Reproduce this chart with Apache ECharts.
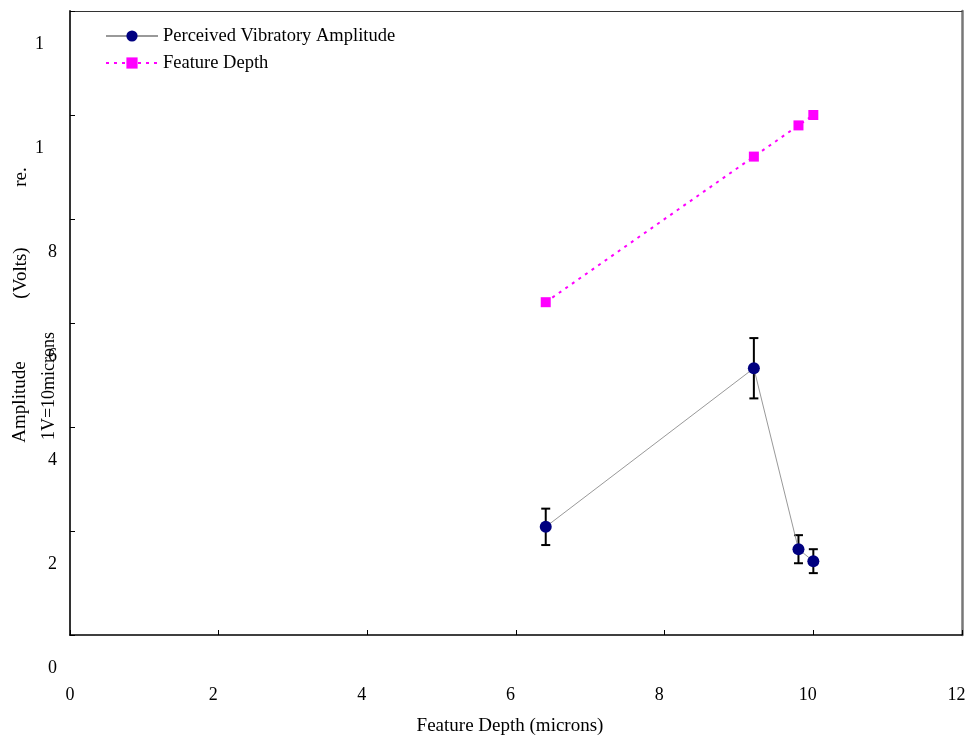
<!DOCTYPE html>
<html>
<head>
<meta charset="utf-8">
<script src="https://cdn.jsdelivr.net/npm/echarts@6/dist/echarts.min.js"></script>
<style>
  html, body { margin: 0; padding: 0; background: #fff; }
  #chart { width: 972px; height: 737px; }
</style>
</head>
<body>
<div id="chart"></div>
<script>
// Measured depths (microns) and the vibratory amplitude perceived at each
const depth = [6.4, 9.2, 9.8, 10.0];
const amplitude = [2.08, 5.13, 1.65, 1.42];
const amplitudeErr = [0.35, 0.58, 0.27, 0.23];
const featureDepth = [6.4, 9.2, 9.8, 10.0];

// Axis tick text
const xTickLabels = ['0', '2', '4', '6', '8', '10', '12'];
const yTickLabels = ['0', '2', '4', '6', '8', '1', '1'];

const seriesNames = ['Perceived Vibratory Amplitude', 'Feature Depth'];
const xAxisTitle = 'Feature Depth (microns)';
const yTitleParts = ['Amplitude', '(Volts)', 're.'];
const yTitleNote = '1V=10microns';

const FONT = 'Liberation Serif';
const chart = echarts.init(document.getElementById('chart'));

const ampPoints = depth.map((d, i) => [d, amplitude[i]]);
const errPoints = depth.map((d, i) => [d, amplitude[i] - amplitudeErr[i], amplitude[i] + amplitudeErr[i]]);
const depthPoints = depth.map((d, i) => [d, featureDepth[i]]);

function renderErrorBar(params, api) {
  const x = api.value(0);
  const lo = api.coord([x, api.value(1)]);
  const hi = api.coord([x, api.value(2)]);
  const cap = 4.5;
  const style = { stroke: '#000', lineWidth: 2 };
  return {
    type: 'group',
    children: [
      { type: 'line', shape: { x1: lo[0], y1: lo[1], x2: hi[0], y2: hi[1] }, style },
      { type: 'line', shape: { x1: lo[0] - cap, y1: lo[1], x2: lo[0] + cap, y2: lo[1] }, style },
      { type: 'line', shape: { x1: hi[0] - cap, y1: hi[1], x2: hi[0] + cap, y2: hi[1] }, style }
    ]
  };
}

function yTitle(text, cx, cy, size) {
  return {
    type: 'text',
    x: cx, y: cy,
    rotation: Math.PI / 2,
    style: {
      text: text,
      font: size + 'px "' + FONT + '"',
      fill: '#000',
      align: 'center',
      verticalAlign: 'middle'
    }
  };
}

function legendFor(name, left, top) {
  return {
    orient: 'vertical',
    left: left,
    top: top,
    padding: 0,
    itemWidth: 52,
    itemHeight: 14,
    itemGap: 0,
    textStyle: { fontFamily: FONT, fontSize: 18.5, color: '#000', lineHeight: 22 },
    data: [name]
  };
}

chart.setOption({
  animation: false,
  backgroundColor: '#fff',
  textStyle: { fontFamily: FONT },
  grid: { left: 70, right: 10, top: 11, bottom: 102, show: false, outerBoundsMode: 'none' },
  legend: [
    legendFor(seriesNames[0], 105, 25),
    legendFor(seriesNames[1], 105, 52)
  ],
  xAxis: [{
    type: 'value',
    min: 0, max: 12, interval: 2,
    name: xAxisTitle,
    nameLocation: 'middle',
    nameGap: 82,
    nameMoveOverlap: false,
    nameTextStyle: { fontFamily: FONT, fontSize: 19, color: '#000', padding: [0, 12, 0, 0] },
    axisLine: { show: true, onZero: false, lineStyle: { color: '#000', width: 1.5 } },
    axisTick: { show: true, inside: true, length: 5, lineStyle: { color: '#000' } },
    axisLabel: {
      margin: 51,
      fontSize: 18, color: '#000', fontFamily: FONT,
      formatter: (v) => {
        const t = xTickLabels[Math.round(v / 2)];
        return v === 0 ? t : '{s|' + t + '}';
      },
      rich: { s: { fontSize: 18, fontFamily: FONT, color: '#000', padding: [0, 11, 0, 0] } }
    },
    splitLine: { show: false }
  }, {
    type: 'value',
    position: 'top',
    min: 0, max: 12,
    axisLine: { show: true, onZero: false, lineStyle: { color: '#333', width: 1 } },
    axisTick: { show: false }, axisLabel: { show: false }, splitLine: { show: false }
  }],
  yAxis: [{
    type: 'value',
    min: 0, max: 12, interval: 2,
    axisLine: { show: true, onZero: false, lineStyle: { color: '#333', width: 2 } },
    axisTick: { show: true, inside: true, length: 5, lineStyle: { color: '#000' } },
    axisLabel: {
      margin: 13,
      fontSize: 18, color: '#000', fontFamily: FONT,
      verticalAlign: 'middle',
      padding: [67, 0, 0, 0],
      formatter: (v) => {
        const t = yTickLabels[Math.round(v / 2)];
        return v >= 10 ? '{w|' + t + '}' : t;
      },
      rich: { w: { fontSize: 18, fontFamily: FONT, color: '#000', padding: [0, 13, 0, 0] } }
    },
    splitLine: { show: false }
  }, {
    type: 'value',
    position: 'right',
    min: 0, max: 12,
    axisLine: { show: true, onZero: false, lineStyle: { color: '#777', width: 2.5 } },
    axisTick: { show: false }, axisLabel: { show: false }, splitLine: { show: false }
  }],
  graphic: [
    yTitle(yTitleParts[0], 20, 402, 19),
    yTitle(yTitleParts[1], 21, 273, 19),
    yTitle(yTitleParts[2], 21, 177, 19),
    yTitle(yTitleNote, 49, 386, 18)
  ],
  series: [
    {
      type: 'custom',
      name: 'error',
      renderItem: renderErrorBar,
      data: errPoints,
      z: 1,
      silent: true,
      encode: { x: 0, y: [1, 2] }
    },
    {
      type: 'line',
      name: seriesNames[0],
      data: ampPoints,
      symbol: 'circle',
      symbolSize: 12,
      itemStyle: { color: '#000080', borderWidth: 0 },
      lineStyle: { color: '#999', width: 1 },
      z: 3
    },
    {
      type: 'line',
      name: seriesNames[1],
      data: depthPoints,
      symbol: 'rect',
      symbolSize: 10,
      itemStyle: { color: '#FF00FF', borderWidth: 0 },
      lineStyle: { color: '#FF00FF', width: 2, type: [3, 5] },
      z: 3
    }
  ]
});
</script>
</body>
</html>
